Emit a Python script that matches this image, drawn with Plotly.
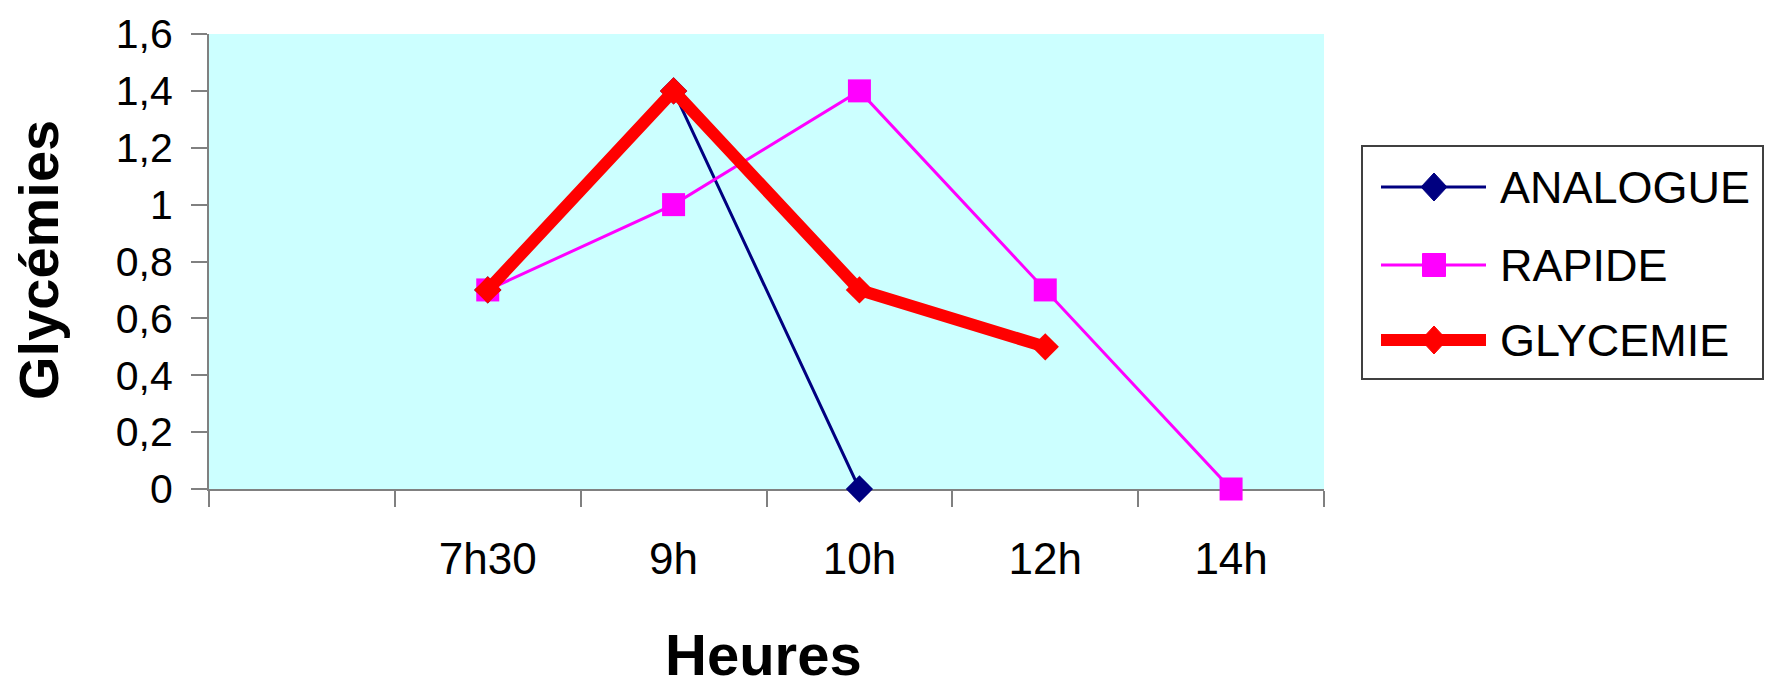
import plotly.graph_objects as go

categories = [" ", "7h30", "9h", "10h", "12h", "14h"]
analogue = [None, 0.7, 1.4, 0.0, None, None]
rapide = [None, 0.7, 1.0, 1.4, 0.7, 0.0]
glycemie = [None, 0.7, 1.4, 0.7, 0.5, None]
series_names = ["ANALOGUE", "RAPIDE", "GLYCEMIE"]

W, H = 1773, 686
L, R, T, B = 209, 1324, 34, 489


def px(x):
    return (x - L) / (R - L)


def py(y):
    return (B - y) / (B - T)


NAVY = "#000080"
MAG = "#FF00FF"
RED = "#FF0000"
FONT = "Liberation Sans, Arial, sans-serif"

fig = go.Figure()
fig.add_trace(go.Scatter(x=categories, y=analogue, name=series_names[0], mode="lines+markers",
                         line=dict(color=NAVY, width=3), cliponaxis=False,
                         marker=dict(symbol="diamond", size=21, color=NAVY)))
fig.add_trace(go.Scatter(x=categories, y=rapide, name=series_names[1], mode="lines+markers",
                         line=dict(color=MAG, width=3), cliponaxis=False,
                         marker=dict(symbol="square", size=23, color=MAG)))
fig.add_trace(go.Scatter(x=categories, y=glycemie, name=series_names[2], mode="lines+markers",
                         line=dict(color=RED, width=12), cliponaxis=False,
                         marker=dict(symbol="diamond", size=21, color=RED)))

fig.update_layout(
    width=W, height=H,
    margin=dict(l=L, r=W - R, t=T, b=H - B, pad=0),
    paper_bgcolor="white",
    plot_bgcolor="#CCFFFF",
    showlegend=False,
    separators=", ",
    font=dict(family=FONT, color="black"),
)
fig.update_xaxes(
    type="category", categoryorder="array", categoryarray=categories,
    range=[-0.5, len(categories) - 0.5],
    showgrid=False, zeroline=False, showline=True, linecolor="#808080", linewidth=2,
    ticks="outside", tickson="boundaries", ticklen=16, tickcolor="#808080", tickwidth=2,
    tickfont=dict(size=44, family=FONT, color="black"),
    ticklabelstandoff=30, layer="below traces",
)
fig.update_yaxes(
    range=[0, 1.6], dtick=0.2, tick0=0,
    showgrid=False, zeroline=False, showline=True, linecolor="#808080", linewidth=2,
    ticks="outside", ticklen=16, tickcolor="#808080", tickwidth=2,
    tickfont=dict(size=41, family=FONT, color="black"),
    ticklabelstandoff=10, layer="below traces",
)

annotations = [
    dict(text="<b>Glycémies</b>", x=px(38), y=py(260), xref="paper", yref="paper",
         textangle=-90, showarrow=False, font=dict(size=56, family=FONT, color="black"),
         xanchor="center", yanchor="middle"),
    dict(text="<b>Heures</b>", x=px(763), y=py(654), xref="paper", yref="paper",
         showarrow=False, font=dict(size=58, family=FONT, color="black"),
         xanchor="center", yanchor="middle"),
]

shapes = [
    dict(type="rect", xref="paper", yref="paper", x0=px(1362), x1=px(1763), y0=py(379), y1=py(146),
         line=dict(color="#404040", width=2), fillcolor="white", layer="below"),
]

leg_rows = [187, 265, 340]
leg_styles = [(NAVY, 3, "diamond"), (MAG, 3, "square"), (RED, 12, "diamond")]
for name, yrow, (col, lw, sym) in zip(series_names, leg_rows, leg_styles):
    shapes.append(dict(type="line", xref="paper", yref="paper", x0=px(1381), x1=px(1486),
                       y0=py(yrow), y1=py(yrow), line=dict(color=col, width=lw)))
    if sym == "diamond":
        path = "M-13,0 L0,-14 L13,0 L0,14 Z"
    else:
        path = "M-11.5,-11.5 L11.5,-11.5 L11.5,11.5 L-11.5,11.5 Z"
    shapes.append(dict(type="path", xref="paper", yref="paper", xsizemode="pixel", ysizemode="pixel",
                       xanchor=px(1434), yanchor=py(yrow), path=path,
                       fillcolor=col, line=dict(color=col, width=1)))
    annotations.append(dict(text=name, x=px(1498), y=py(yrow), xref="paper", yref="paper",
                            showarrow=False, xanchor="left", yanchor="middle",
                            font=dict(size=45, family=FONT, color="black")))

fig.update_layout(annotations=annotations, shapes=shapes)
fig.write_html(
    "out.html",
    config={"displayModeBar": False},
    post_script="document.body.style.margin='0px';document.body.style.overflow='hidden';",
)
